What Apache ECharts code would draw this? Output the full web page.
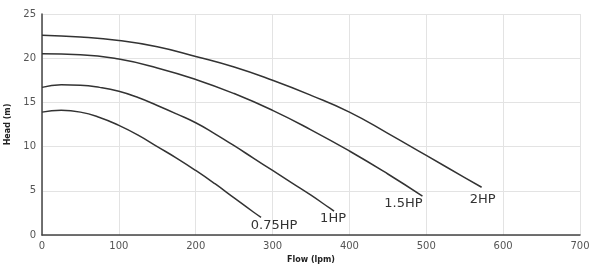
<!DOCTYPE html>
<html>
<head>
<meta charset="utf-8">
<script src="https://cdn.jsdelivr.net/npm/echarts@6/dist/echarts.min.js"></script>
<style>
  html, body { margin: 0; padding: 0; background: #fff; }
  #chart { width: 600px; height: 265px; }
</style>
</head>
<body>
<div id="chart"></div>
<script>
// pump curves, flow in lpm, head in m
var flow075 = [0, 25, 50, 75, 100, 125, 150, 175, 200, 225, 250, 275, 285];
var head075 = [13.9, 14.1, 13.9, 13.3, 12.4, 11.3, 10.0, 8.7, 7.3, 5.8, 4.2, 2.6, 2.0];

var flow1 = [0, 25, 50, 75, 100, 125, 150, 175, 200, 225, 250, 275, 300, 325, 350, 375, 380];
var head1 = [16.7, 17.0, 16.95, 16.7, 16.25, 15.55, 14.65, 13.7, 12.7, 11.45, 10.1, 8.7, 7.3, 5.9, 4.5, 3.0, 2.7];

var flow15 = [0, 50, 100, 150, 200, 250, 300, 350, 400, 450, 495];
var head15 = [20.5, 20.4, 19.9, 18.9, 17.6, 16.0, 14.1, 11.9, 9.5, 6.9, 4.4];

var flow2 = [0, 50, 100, 150, 200, 250, 300, 350, 400, 450, 500, 550, 572];
var head2 = [22.6, 22.4, 22.0, 21.3, 20.2, 19.0, 17.5, 15.8, 13.9, 11.5, 9.0, 6.5, 5.4];

var seriesNames = ["0.75HP", "1HP", "1.5HP", "2HP"];
var labelOffsets = [[13, 8], [-1, 7], [-19, 8], [1, 12]];

var FONT = "DejaVu Sans";

function makeData(xs, ys, name, off) {
  var out = [];
  for (var i = 0; i < xs.length; i++) {
    var p = { value: [xs[i], ys[i]] };
    if (i === xs.length - 1) {
      p.label = {
        show: true,
        formatter: name,
        position: "inside",
        offset: off,
        color: "#333",
        fontSize: 13,
        fontFamily: FONT
      };
    }
    out.push(p);
  }
  return out;
}

var chart = echarts.init(document.getElementById("chart"));
var curves = [[flow075, head075], [flow1, head1], [flow15, head15], [flow2, head2]];

var option = {
  animation: false,
  grid: { left: 42, right: 20, top: 14, bottom: 30, outerBoundsMode: "none", containLabel: false },
  xAxis: {
    type: "value",
    min: 0,
    max: 700,
    interval: 100,
    name: "Flow (lpm)",
    nameLocation: "middle",
    nameGap: 20,
    nameTextStyle: { fontSize: 8, fontWeight: "bold", color: "#222", fontFamily: FONT },
    axisLine: { lineStyle: { color: "#444", width: 1.5 } },
    axisTick: { show: false },
    axisLabel: { fontSize: 10, color: "#555", fontFamily: FONT, margin: 6 },
    splitLine: { show: true, lineStyle: { color: "#e3e3e3" } }
  },
  yAxis: {
    type: "value",
    min: 0,
    max: 25,
    interval: 5,
    name: "Head (m)",
    nameLocation: "middle",
    nameGap: 26,
    nameTextStyle: { fontSize: 8, fontWeight: "bold", color: "#222", fontFamily: FONT },
    axisLine: { show: true, lineStyle: { color: "#444", width: 1.5 } },
    axisTick: { show: false },
    axisLabel: { fontSize: 10, color: "#555", fontFamily: FONT, margin: 6 },
    splitLine: { show: true, lineStyle: { color: "#e3e3e3" } }
  },
  series: curves.map(function (c, i) {
    return {
      name: seriesNames[i],
      type: "line",
      smooth: 0.5,
      showSymbol: true,
      symbol: "circle",
      symbolSize: 0,
      lineStyle: { color: "#333", width: 1.5 },
      itemStyle: { color: "#333" },
      data: makeData(c[0], c[1], seriesNames[i], labelOffsets[i])
    };
  })
};

chart.setOption(option);
</script>
</body>
</html>
